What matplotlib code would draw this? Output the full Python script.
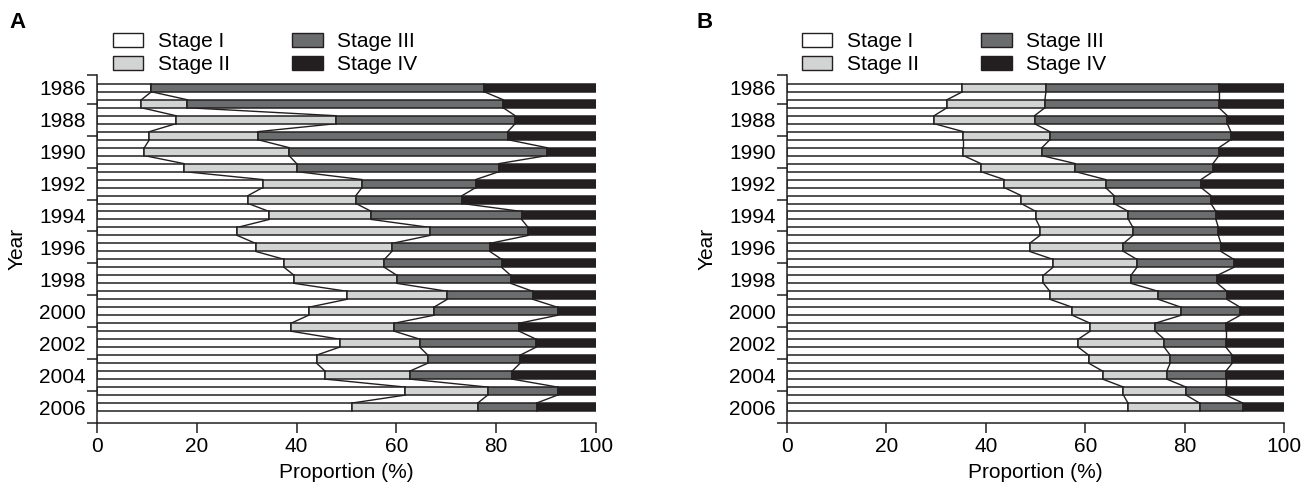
import numpy as np
import matplotlib
matplotlib.use("Agg")
import matplotlib.pyplot as plt
from matplotlib.patches import Patch

plt.rcParams['font.family'] = ['Liberation Sans', 'DejaVu Sans']

years = list(range(1986, 2007))
stages = ["Stage I", "Stage II", "Stage III", "Stage IV"]
colors = ["#ffffff", "#d2d3d3", "#6b6c6e", "#231f20"]

# Panel A proportions (%)
a_stage1 = [10.9, 8.9, 15.8, 10.5, 9.5, 17.4, 33.2, 30.3, 34.5, 28.1, 31.8,
            37.5, 39.5, 50.1, 42.4, 38.9, 48.6, 44.0, 45.7, 61.8, 51.1]
a_stage2 = [0.0, 9.2, 32.0, 21.7, 29.0, 22.6, 19.9, 21.6, 20.5, 38.6, 27.3,
            20.1, 20.6, 20.1, 25.1, 20.7, 16.1, 22.3, 17.0, 16.5, 25.2]
a_stage3 = [66.7, 63.3, 36.0, 50.1, 51.6, 40.6, 22.8, 21.3, 30.1, 19.7, 19.6,
            23.5, 22.8, 17.1, 24.8, 25.0, 23.3, 18.5, 20.5, 14.0, 11.8]
a_stage4 = [22.4, 18.6, 16.2, 17.7, 9.9, 19.4, 24.1, 26.8, 14.9, 13.6, 21.3,
            18.9, 17.1, 12.7, 7.7, 15.4, 12.0, 15.2, 16.8, 7.7, 11.9]

# Panel B proportions (%)
b_stage1 = [35.3, 32.2, 29.6, 35.5, 35.5, 39.0, 43.7, 47.1, 50.1, 50.9, 48.8,
            53.5, 51.6, 52.9, 57.4, 61.0, 58.6, 60.7, 63.5, 67.7, 68.6]
b_stage2 = [16.8, 19.7, 20.2, 17.4, 15.8, 19.0, 20.4, 18.7, 18.6, 18.7, 18.9,
            16.9, 17.6, 21.8, 21.9, 13.1, 17.3, 16.4, 12.9, 12.6, 14.4]
b_stage3 = [34.8, 35.0, 38.8, 36.4, 35.6, 27.7, 19.2, 19.5, 17.6, 17.2, 19.6,
            19.5, 17.4, 13.8, 11.9, 14.2, 12.4, 12.5, 11.9, 8.0, 8.7]
b_stage4 = [13.1, 13.1, 11.4, 10.7, 13.1, 14.3, 16.7, 14.7, 13.7, 13.2, 12.7,
            10.1, 13.4, 11.5, 8.8, 11.7, 11.7, 10.4, 11.7, 11.7, 8.3]

FS = 15
BAR_H = 0.5
INK = "#231f20"

fig = plt.figure(figsize=(13.14, 4.95), dpi=100)


def draw_panel(rect, data, label, legend_x, label_x):
    ax = fig.add_axes(rect)
    y = np.array(years, dtype=float)
    left = np.zeros(len(years))
    cums = []
    for vals, col, name in zip(data, colors, stages):
        vals = np.array(vals)
        ax.barh(y, vals, left=left, height=BAR_H, color=col,
                edgecolor=INK, linewidth=1.1, label=name, zorder=2)
        left = left + vals
        cums.append(left.copy())
    # series lines connecting the boundaries between adjacent bars
    for c in cums[:3]:
        for i in range(len(years) - 1):
            ax.plot([c[i], c[i + 1]],
                    [y[i] + BAR_H / 2, y[i + 1] - BAR_H / 2],
                    color=INK, linewidth=1.0, zorder=1)
    ax.set_xlim(0, 100)
    ax.set_ylim(2007, 1985.2)
    ax.set_xticks([0, 20, 40, 60, 80, 100])
    ax.set_yticks(list(range(1986, 2007, 2)))
    ax.set_yticks(list(range(1987, 2008, 2)) + [1985.2], minor=True)
    ax.tick_params(axis='y', which='major', length=0, pad=8, labelsize=FS)
    ax.tick_params(axis='y', which='minor', length=7, width=1.1,
                   direction='out', color=INK)
    ax.tick_params(axis='x', which='major', length=7, width=1.1,
                   direction='out', labelsize=FS, pad=3, color=INK)
    for s in ["top", "right"]:
        ax.spines[s].set_visible(False)
    for s in ["left", "bottom"]:
        ax.spines[s].set_linewidth(1.1)
        ax.spines[s].set_color(INK)
    ax.set_xlabel("Proportion (%)", fontsize=FS, labelpad=5)
    ax.set_ylabel("Year", fontsize=FS, labelpad=9)
    handles = [Patch(facecolor=c, edgecolor=INK, linewidth=1.0)
               for c in colors]
    ax.legend(handles, stages, loc='upper left',
              bbox_to_anchor=(legend_x, 0.935), bbox_transform=fig.transFigure,
              ncol=2, frameon=False, fontsize=FS, handlelength=1.45,
              handleheight=0.67, handletextpad=0.7, columnspacing=3.0,
              labelspacing=0.2, borderpad=0, borderaxespad=0)
    fig.text(label_x, 0.975, label, fontsize=16, fontweight='bold',
             va='top', ha='left')
    return ax


draw_panel([97 / 1314, 72 / 495, 499 / 1314, 348 / 495],
           [a_stage1, a_stage2, a_stage3, a_stage4], "A",
           113 / 1314, 9 / 1314)
draw_panel([787 / 1314, 72 / 495, 497 / 1314, 348 / 495],
           [b_stage1, b_stage2, b_stage3, b_stage4], "B",
           802 / 1314, 697 / 1314)

fig.savefig("out.png", dpi=100)
